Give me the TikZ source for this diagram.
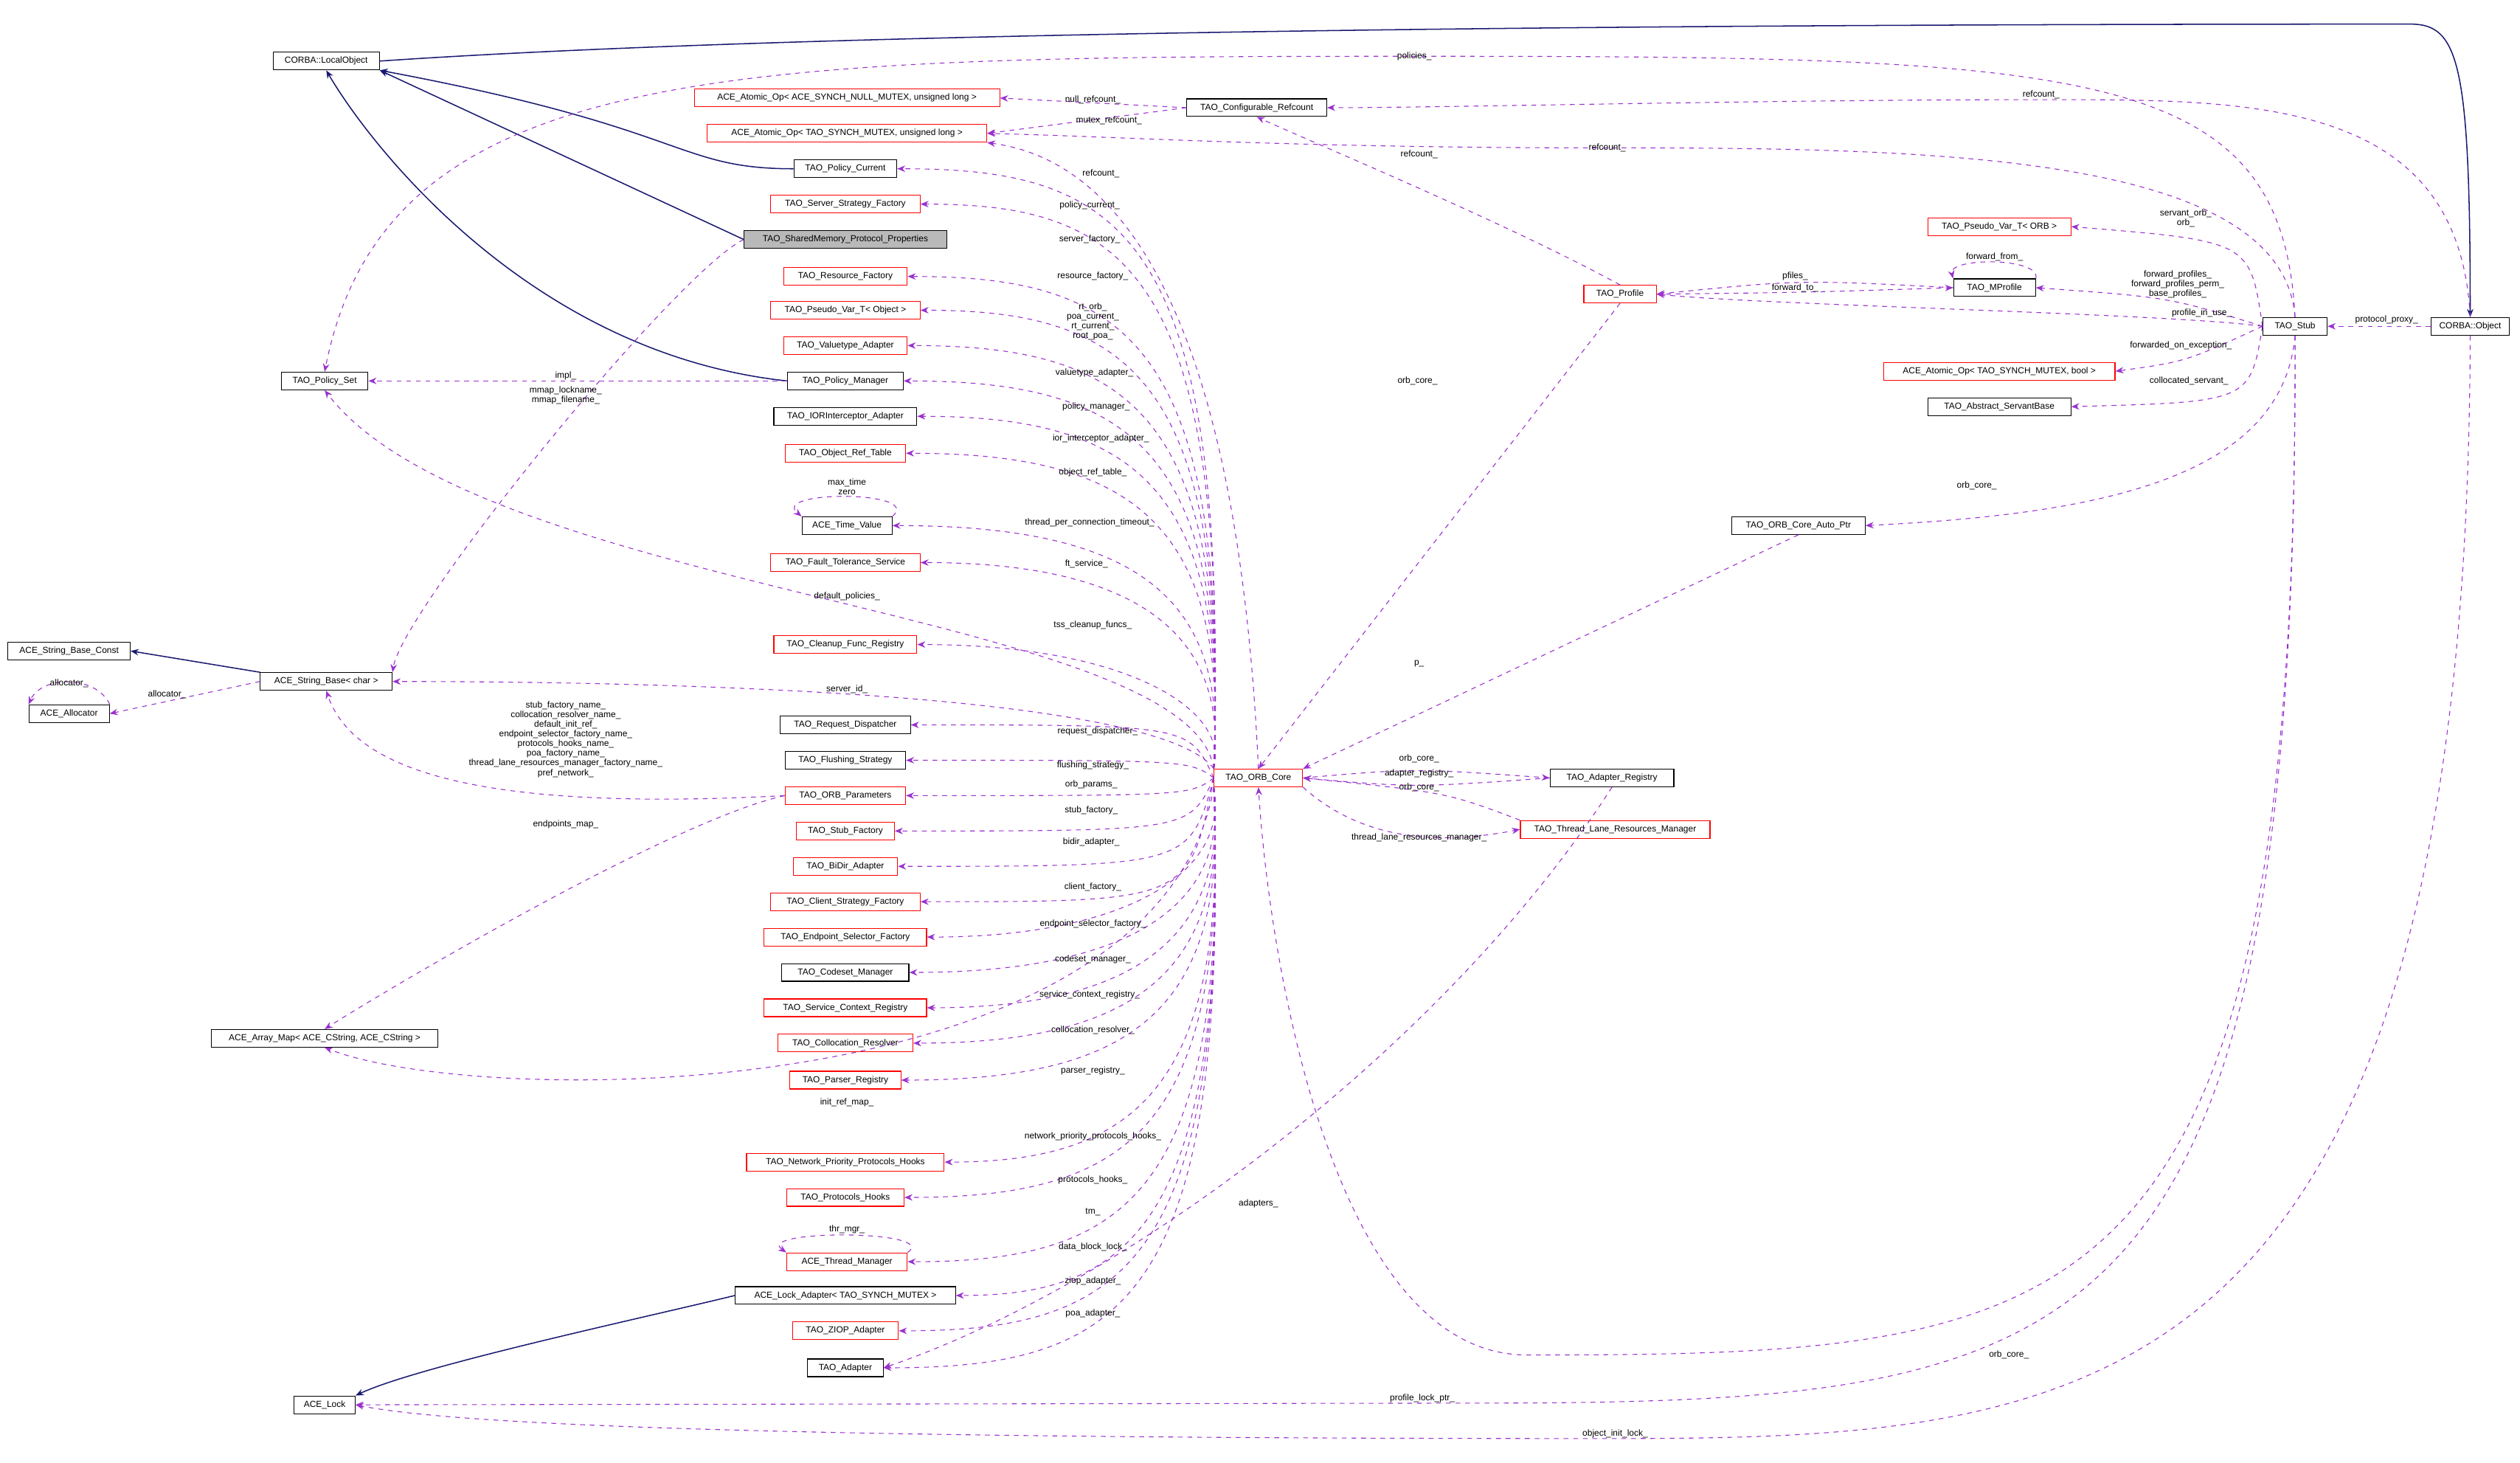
\documentclass[tikz,border=0pt]{standalone}
\usepackage{fontspec}
\setmainfont{Liberation Sans}
\usetikzlibrary{arrows.meta}
\definecolor{nav}{HTML}{191970}
\definecolor{pur}{HTML}{9A32CD}
\tikzset{
 bx/.style={draw=black,line width=0.5pt,font=\fontsize{5.5}{6}\selectfont,minimum height=11pt,inner sep=1pt,fill=white},
 rb/.style={bx,draw=red},
 inh/.style={nav,line width=0.7pt,-{Stealth[length=5pt,width=4pt]}},
 use/.style={pur,dashed,line width=0.5pt,-{Stealth[length=5pt,width=4pt]}},
 lb/.style={font=\fontsize{5.5}{6}\selectfont,align=center,inner sep=0pt}
}
\begin{document}
\begin{tikzpicture}[x=1pt,y=-1pt]
\useasboundingbox (0,0) rectangle (1568,910);
% nodes
\node[bx,minimum width=66] (lo) at (203,38) {CORBA::LocalObject};
\node[rb,minimum width=190] (an) at (527,61) {ACE\_Atomic\_Op< ACE\_SYNCH\_NULL\_MUTEX, unsigned long >};
\node[bx,minimum width=87] (cr) at (782,67) {TAO\_Configurable\_Refcount};
\node[rb,minimum width=174] (au) at (527,83) {ACE\_Atomic\_Op< TAO\_SYNCH\_MUTEX, unsigned long >};
\node[bx,minimum width=64] (pc) at (526,105) {TAO\_Policy\_Current};
\node[rb,minimum width=93] (ssf) at (526,127) {TAO\_Server\_Strategy\_Factory};
\node[bx,fill=gray!55,minimum width=126] (sm) at (526,149) {TAO\_SharedMemory\_Protocol\_Properties};
\node[rb,minimum width=77] (rf) at (526,172) {TAO\_Resource\_Factory};
\node[rb,minimum width=93] (pvo) at (526,193) {TAO\_Pseudo\_Var\_T< Object >};
\node[rb,minimum width=77] (va) at (526,215) {TAO\_Valuetype\_Adapter};
\node[bx,minimum width=72] (pm) at (526,237) {TAO\_Policy\_Manager};
\node[bx,minimum width=89] (ior) at (526,259) {TAO\_IORInterceptor\_Adapter};
\node[rb,minimum width=75] (ort) at (526,282) {TAO\_Object\_Ref\_Table};
\node[bx,minimum width=56] (tv) at (527,327) {ACE\_Time\_Value};
\node[rb,minimum width=93] (ft) at (526,350) {TAO\_Fault\_Tolerance\_Service};
\node[rb,minimum width=89] (cf) at (526,401) {TAO\_Cleanup\_Func\_Registry};
\node[bx,minimum width=81] (rd) at (526,451) {TAO\_Request\_Dispatcher};
\node[bx,minimum width=75] (fs) at (526,473) {TAO\_Flushing\_Strategy};
\node[rb,minimum width=75] (op) at (526,495) {TAO\_ORB\_Parameters};
\node[rb,minimum width=61] (sf) at (526,517) {TAO\_Stub\_Factory};
\node[rb,minimum width=65] (bd) at (526,539) {TAO\_BiDir\_Adapter};
\node[rb,minimum width=93] (csf) at (526,561) {TAO\_Client\_Strategy\_Factory};
\node[rb,minimum width=101] (esf) at (526,583) {TAO\_Endpoint\_Selector\_Factory};
\node[bx,minimum width=79] (cm) at (526,605) {TAO\_Codeset\_Manager};
\node[rb,minimum width=101] (scr) at (526,627) {TAO\_Service\_Context\_Registry};
\node[rb,minimum width=84] (col) at (526,649) {TAO\_Collocation\_Resolver};
\node[rb,minimum width=69] (pr) at (526,672) {TAO\_Parser\_Registry};
\node[rb,minimum width=123] (np) at (526,723) {TAO\_Network\_Priority\_Protocols\_Hooks};
\node[rb,minimum width=73] (ph) at (526,745) {TAO\_Protocols\_Hooks};
\node[rb,minimum width=75] (tm) at (527,785) {ACE\_Thread\_Manager};
\node[bx,minimum width=137] (la) at (526,806) {ACE\_Lock\_Adapter< TAO\_SYNCH\_MUTEX >};
\node[rb,minimum width=66] (zi) at (526,828) {TAO\_ZIOP\_Adapter};
\node[bx,minimum width=47] (ad) at (526,851) {TAO\_Adapter};
\node[rb,minimum width=55] (core) at (783,484) {TAO\_ORB\_Core};
\node[bx,minimum width=54] (ps) at (202,237) {TAO\_Policy\_Set};
\node[bx,minimum width=76] (sbc) at (43,405) {ACE\_String\_Base\_Const};
\node[bx,minimum width=82] (sb) at (203,424) {ACE\_String\_Base< char >};
\node[bx,minimum width=50] (al) at (43,444) {ACE\_Allocator};
\node[bx,minimum width=141] (am) at (202,646) {ACE\_Array\_Map< ACE\_CString, ACE\_CString >};
\node[bx,minimum width=38] (lk) at (202,874) {ACE\_Lock};
\node[rb,minimum width=45] (pf) at (1008,183) {TAO\_Profile};
\node[bx,minimum width=51] (mp) at (1241,179) {TAO\_MProfile};
\node[rb,minimum width=89] (pvr) at (1244,141) {TAO\_Pseudo\_Var\_T< ORB >};
\node[rb,minimum width=144] (ab) at (1244,231) {ACE\_Atomic\_Op< TAO\_SYNCH\_MUTEX, bool >};
\node[bx,minimum width=89] (asb) at (1244,253) {TAO\_Abstract\_ServantBase};
\node[bx,minimum width=40] (st) at (1428,203) {TAO\_Stub};
\node[bx,minimum width=49] (ob) at (1537,203) {CORBA::Object};
\node[bx,minimum width=83] (oap) at (1119,327) {TAO\_ORB\_Core\_Auto\_Ptr};
\node[bx,minimum width=77] (ar) at (1003,484) {TAO\_Adapter\_Registry};
\node[rb,minimum width=118] (tl) at (1005,516) {TAO\_Thread\_Lane\_Resources\_Manager};
% inheritance
\draw[inh] (pc.west) .. controls (420,105) and (430,80) .. (lo.south east);
\draw[inh] (sm.west) -- (lo.south east);
\draw[inh] (pm.west) .. controls (330,220) and (230,90) .. (lo.south);
\draw[inh] (lo.east) .. controls (500,20) and (1000,15) .. (1500,15) .. controls (1530,15) and (1537,40) .. (ob.north);
\draw[inh] (sb.north west) -- (sbc.east);
\draw[inh] (la.west) .. controls (400,820) and (260,850) .. (lk.north east);
% usage from core
\foreach \t/\yy in {pc/105,ssf/127,rf/172,pvo/193,va/215,pm/237,ior/259,ort/282,tv/327,ft/350,cf/401}
  \draw[use] (core.north west) .. controls (765,\yy+40) and (700,\yy) .. (\t.east);
\foreach \t/\yy in {rd/451,fs/473,op/495,sf/517,bd/539,csf/561}
  \draw[use] (core.west) .. controls (740,\yy) .. (\t.east);
\foreach \t/\yy in {esf/583,cm/605,scr/627,col/649,pr/672,np/723,ph/745,tm/785,la/806,zi/828,ad/851}
  \draw[use] (core.south west) .. controls (765,\yy-40) and (700,\yy) .. (\t.east);
\draw[use] (core.north) .. controls (770,200) and (700,100) .. (au.south east);
\draw[use] (core.north west) .. controls (740,380) and (300,370) .. (ps.south);
\draw[use] (core.north west) .. controls (720,430) and (400,424) .. (sb.east);
\draw[use] (core.south west) .. controls (720,690) and (300,690) .. (am.south);
\draw[use] (core.east) .. controls (880,478) .. (ar.west);
\draw[use] (ar.west) .. controls (880,490) .. (core.east);
\draw[use] (core.south east) .. controls (850,525) and (900,525) .. (tl.west);
\draw[use] (tl.north west) .. controls (900,493) .. (core.east);
\draw[use] (ar.south) .. controls (900,650) and (700,800) .. (ad.east);
\draw[use] (pf.south) -- (core.north);
\draw[use] (oap.south) -- (core.north east);
\draw[use] (st.south) .. controls (1430,830) and (1300,843) .. (950,843) .. controls (830,843) and (790,600) .. (core.south);
\draw[use] (st.south) .. controls (1430,860) and (1300,873) .. (900,873) -- (lk.east);
\draw[use] (ob.south) .. controls (1535,880) and (1300,895) .. (1000,895) .. controls (600,895) and (300,890) .. (lk.east);
\draw[use] (st.south) .. controls (1420,300) and (1300,320) .. (oap.east);
\draw[use] (st.north) .. controls (1420,40) and (1300,35) .. (880,35) .. controls (450,35) and (240,40) .. (ps.north);
\draw[use] (ob.north) .. controls (1530,60) and (1400,62) .. (1270,62) .. controls (1100,62) and (900,67) .. (cr.east);
\draw[use] (st.north) .. controls (1420,95) and (1200,92) .. (1000,92) .. controls (800,92) and (700,85) .. (au.east);
\draw[use] (pf.north) .. controls (940,140) and (820,90) .. (cr.south);
\draw[use] (cr.west) -- (an.east);
\draw[use] (cr.west) -- (au.east);
\draw[use] (st.west) .. controls (1400,150) .. (pvr.east);
\draw[use] (st.west) .. controls (1350,185) .. (mp.east);
\draw[use] (st.west) .. controls (1350,195) and (1100,190) .. (pf.east);
\draw[use] (st.west) .. controls (1360,225) .. (ab.east);
\draw[use] (st.west) .. controls (1400,250) .. (asb.east);
\draw[use] (ob.west) -- (st.east);
\draw[use] (mp.west) .. controls (1120,174) .. (pf.east);
\draw[use] (pf.east) .. controls (1120,182) .. (mp.west);
\draw[use] (mp.north east) .. controls (1270,160) and (1212,160) .. (mp.north west);
\draw[use] (tv.north east) .. controls (575,305) and (479,305) .. (tv.north west);
\draw[use] (tm.north east) .. controls (585,765) and (469,765) .. (tm.north west);
\draw[use] (al.north east) .. controls (60,420) and (26,420) .. (al.north west);
\draw[use] (pm.west) -- (ps.east);
\draw[use] (sm.west) .. controls (420,170) and (250,380) .. (sb.north east);
\draw[use] (sb.west) -- (al.east);
\draw[use] (op.west) .. controls (300,505) and (220,480) .. (sb.south);
\draw[use] (op.west) .. controls (420,510) and (250,610) .. (am.north);
% labels
\node[lb] (l1) at (678,128) {policy\_current\_};
\node[lb] (l2) at (678,149) {server\_factory\_};
\node[lb] (l3) at (680,172) {resource\_factory\_};
\node[lb] (l4) at (680,200) {rt\_orb\_\\poa\_current\_\\rt\_current\_\\root\_poa\_};
\node[lb] (l5) at (681,232) {valuetype\_adapter\_};
\node[lb] (l6) at (682,253) {policy\_manager\_};
\node[lb] (l7) at (685,273) {ior\_interceptor\_adapter\_};
\node[lb] (l8) at (680,294) {object\_ref\_table\_};
\node[lb] (l9) at (678,325) {thread\_per\_connection\_timeout\_};
\node[lb] (l10) at (676,351) {ft\_service\_};
\node[lb] (l11) at (527,371) {default\_policies\_};
\node[lb] (l12) at (680,389) {tss\_cleanup\_funcs\_};
\node[lb] (l13) at (527,429) {server\_id\_};
\node[lb] (l14) at (683,455) {request\_dispatcher\_};
\node[lb] (l15) at (680,476) {flushing\_strategy\_};
\node[lb] (l16) at (679,488) {orb\_params\_};
\node[lb] (l17) at (679,504) {stub\_factory\_};
\node[lb] (l18) at (679,524) {bidir\_adapter\_};
\node[lb] (l19) at (680,552) {client\_factory\_};
\node[lb] (l20) at (680,575) {endpoint\_selector\_factory\_};
\node[lb] (l21) at (680,597) {codeset\_manager\_};
\node[lb] (l22) at (678,619) {service\_context\_registry\_};
\node[lb] (l23) at (680,641) {collocation\_resolver\_};
\node[lb] (l24) at (680,666) {parser\_registry\_};
\node[lb] (l25) at (527,686) {init\_ref\_map\_};
\node[lb] (l26) at (680,707) {network\_priority\_protocols\_hooks\_};
\node[lb] (l27) at (680,734) {protocols\_hooks\_};
\node[lb] (l28) at (680,754) {tm\_};
\node[lb] (l29) at (680,776) {data\_block\_lock\_};
\node[lb] (l30) at (680,797) {ziop\_adapter\_};
\node[lb] (l31) at (680,817) {poa\_adapter\_};
\node[lb] (l32) at (685,108) {refcount\_};
\node[lb] (l33) at (680,62) {null\_refcount\_};
\node[lb] (l34) at (690,75) {mutex\_refcount\_};
\node[lb] (l35) at (883,96) {refcount\_};
\node[lb] (l36) at (1000,92) {refcount\_};
\node[lb] (l37) at (1270,59) {refcount\_};
\node[lb] (l38) at (880,35) {policies\_};
\node[lb] (l39) at (882,237) {orb\_core\_};
\node[lb] (l40) at (1117,172) {pfiles\_};
\node[lb] (l41) at (1117,179) {forward\_to\_};
\node[lb] (l42) at (1241,160) {forward\_from\_};
\node[lb] (l43) at (1360,136) {servant\_orb\_\\orb\_};
\node[lb] (l44) at (1355,177) {forward\_profiles\_\\forward\_profiles\_perm\_\\base\_profiles\_};
\node[lb] (l45) at (1370,195) {profile\_in\_use\_};
\node[lb] (l46) at (1485,199) {protocol\_proxy\_};
\node[lb] (l47) at (1357,215) {forwarded\_on\_exception\_};
\node[lb] (l48) at (1362,237) {collocated\_servant\_};
\node[lb] (l49) at (1230,302) {orb\_core\_};
\node[lb] (l50) at (883,413) {p\_};
\node[lb] (l51) at (883,472) {orb\_core\_};
\node[lb] (l52) at (883,481) {adapter\_registry\_};
\node[lb] (l53) at (883,490) {orb\_core\_};
\node[lb] (l54) at (883,521) {thread\_lane\_resources\_manager\_};
\node[lb] (l55) at (783,749) {adapters\_};
\node[lb] (l56) at (1250,843) {orb\_core\_};
\node[lb] (l57) at (885,870) {profile\_lock\_ptr\_};
\node[lb] (l58) at (1005,892) {object\_init\_lock\_};
\node[lb] (l59) at (352,234) {impl\_};
\node[lb] (l60) at (352,246) {mmap\_lockname\_\\mmap\_filename\_};
\node[lb] (l61) at (104,432) {allocator\_};
\node[lb] (l62) at (43,425) {allocator\_};
\node[lb] (l63) at (527,303) {max\_time\\zero};
\node[lb] (l64) at (527,765) {thr\_mgr\_};
\node[lb] (l65) at (352,460) {stub\_factory\_name\_\\collocation\_resolver\_name\_\\default\_init\_ref\_\\endpoint\_selector\_factory\_name\_\\protocols\_hooks\_name\_\\poa\_factory\_name\_\\thread\_lane\_resources\_manager\_factory\_name\_\\pref\_network\_};
\node[lb] (l66) at (352,513) {endpoints\_map\_};
\end{tikzpicture}
\end{document}
